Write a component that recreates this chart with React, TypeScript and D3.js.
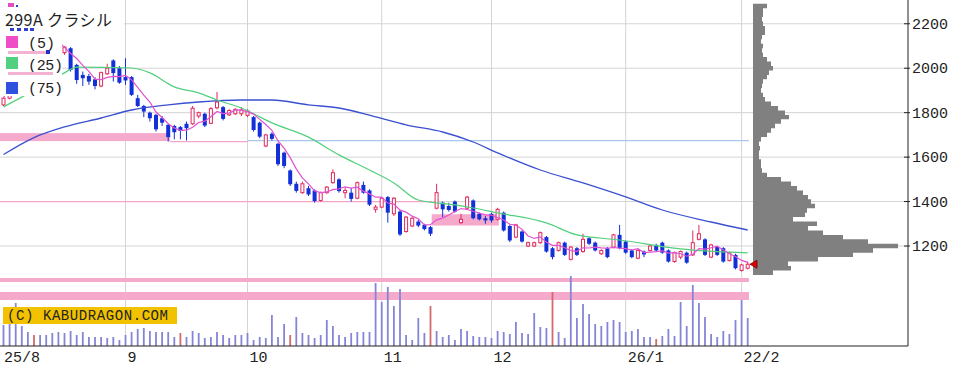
import React from 'react';
import * as d3 from 'd3';

// ---- daily candles (index 0..122) ----
const opens = [1835,1865,1990,2150,2250,2190,2220,2120,2060,2100, 2070,2090,2015,1970,1965,1950,1920,1975,2035,2000, 1960,1960,1865,1830,1800,1790,1775,1745,1740,1735, 1750,1750,1785,1795,1752,1822,1825,1790,1795,1795, 1788,1780,1755,1650,1705,1660,1620,1540,1480,1440, 1460,1450,1405,1440,1485,1500,1440,1440,1415,1475, 1450,1365,1375,1420,1345,1355,1265,1290,1310,1295, 1285,1370,1395,1380,1400,1305,1370,1405,1345,1325, 1345,1320,1350,1290,1240,1265,1200,1200,1215,1240, 1190,1180,1215,1140,1190,1175,1235,1215,1165,1190, 1195,1250,1220,1180,1145,1175,1180,1205,1215,1180, 1130,1150,1170,1160,1230,1230,1150,1195,1190,1135, 1160,1090,1100];
const highs = [1870,2000,2160,2290,2280,2260,2240,2140,2130,2120, 2100,2095,2020,1985,1975,1960,1985,2020,2040,2010, 2045,1965,1880,1835,1805,1795,1785,1750,1745,1740, 1760,1830,1805,1800,1825,1893,1830,1815,1820,1825, 1815,1785,1760,1705,1712,1665,1625,1545,1490,1490, 1470,1455,1445,1470,1545,1505,1465,1460,1490,1490, 1455,1385,1420,1425,1420,1360,1335,1330,1318,1300, 1290,1480,1400,1395,1405,1345,1425,1410,1350,1335, 1350,1372,1355,1295,1300,1270,1220,1220,1265,1245, 1195,1220,1220,1200,1195,1255,1240,1220,1185,1195, 1255,1295,1225,1185,1185,1180,1205,1210,1220,1185, 1175,1180,1175,1270,1295,1235,1210,1200,1195,1175, 1165,1120,1130];
const lows = [1830,1860,1980,2130,2170,2170,2110,2040,2050,2060, 2060,1985,1930,1920,1925,1905,1915,1970,1940,1930, 1925,1875,1825,1780,1760,1715,1740,1670,1680,1680, 1675,1745,1775,1735,1748,1815,1765,1785,1790,1785, 1780,1715,1685,1645,1675,1560,1550,1470,1440,1435, 1425,1395,1400,1435,1480,1440,1415,1400,1410,1435, 1380,1350,1370,1305,1335,1245,1260,1285,1285,1270, 1245,1365,1330,1355,1350,1300,1365,1320,1315,1300, 1305,1315,1265,1218,1235,1215,1195,1195,1210,1170, 1140,1175,1155,1135,1155,1170,1205,1175,1160,1145, 1190,1185,1165,1145,1140,1150,1175,1175,1165,1125, 1125,1140,1120,1155,1225,1155,1145,1155,1125,1130, 1095,1085,1095];
const closes = [1865,1985,2140,2250,2190,2230,2130,2060,2110,2075, 2095,1992,1947,1955,1940,1920,1980,2000,1978,1935, 1945,1880,1830,1805,1775,1725,1755,1690,1712,1718, 1730,1820,1800,1742,1818,1848,1772,1810,1815,1812, 1808,1722,1692,1700,1682,1568,1560,1478,1448,1480, 1432,1402,1440,1465,1530,1447,1450,1412,1485,1440, 1386,1375,1415,1350,1415,1252,1330,1325,1292,1276, 1255,1440,1365,1362,1355,1320,1420,1325,1320,1315, 1315,1365,1270,1225,1295,1220,1215,1215,1260,1175, 1150,1215,1160,1195,1160,1230,1210,1180,1180,1150, 1250,1190,1170,1150,1180,1162,1200,1180,1170,1130, 1170,1175,1125,1215,1255,1160,1205,1160,1130,1170, 1100,1115,1118];
const volumes = [210,230,430,200,140,110,110,110,130,140, 130,150,110,140,90,90,90,80,90,60, 110,140,170,180,150,140,140,140,90,130, 90,150,130,80,90,140,110,80,110,110, 130,60,90,80,310,90,220,110,290,130, 110,80,110,260,200,110,90,130,140,140, 140,630,440,590,400,570,110,60,280,130, 400,150,90,110,60,170,150,100,90, 90,80,150,140,120,240,130,120,330,190, 180,540,140,80,700,280,420,320,220,200, 240,260,240,140,150,170,90,90,70,100, 170,100,440,200,610,430,290,120,90,150, 120,260,460,280];
const redVolumeDays = [5, 29, 47, 70, 90, 107];

// ---- axes ----
const tickIndex = [0, 20, 40, 62, 80, 102, 121];
const tickLabel = ['25/8', '9', '10', '11', '12', '26/1', '22/2'];
const priceTicks = [1200, 1400, 1600, 1800, 2000, 2200];

// ---- moving averages (index, price) ----
const ma25Idx = [0, 3, 10, 12, 21, 24, 28, 32, 35, 39, 44, 50, 55, 60, 64, 68, 74, 77, 81, 89, 94, 101, 111, 122];
const ma25Val = [1826, 1870, 1979, 2005, 2001, 1979, 1916, 1889, 1857, 1821, 1754, 1690, 1610, 1542, 1484, 1407, 1385, 1371, 1349, 1304, 1250, 1227, 1187, 1169];
const ma75Idx = [0, 5, 10, 16, 21, 27, 32, 39, 44, 50, 55, 61, 66, 72, 77, 81, 88, 95, 102, 108, 116, 122];
const ma75Val = [1612, 1688, 1736, 1776, 1812, 1835, 1848, 1857, 1857, 1835, 1821, 1781, 1745, 1713, 1668, 1619, 1542, 1484, 1421, 1362, 1308, 1272];

// ---- volume-by-price profile (bin lower bound, 20 yen bins) ----
const profilePrice = [1070,1090,1110,1130,1150,1170,1190,1210,1230,1250,1270,1290,1310,1330,1350,1370,1390,1410,1430,1450,1470,1490,1510,1530,1550,1570,1590,1610,1630,1650,1670,1690,1710,1730,1750,1770,1790,1810,1830,1850,1870,1890,1910,1930,1950,1970,1990,2010,2030,2050,2070,2090,2110,2130,2150,2170,2190,2210,2230,2250,2270];
const profileVol = [20,38,35,65,100,120,145,115,90,70,55,64,40,52,54,62,58,55,50,44,38,28,14,9,8,8,6,6,7,6,8,14,18,22,28,36,32,25,18,12,10,8,9,10,14,16,20,18,14,10,9,10,8,9,12,12,10,9,10,10,14];

// ---- zones [startIndex, endIndex, lowPrice, highPrice] ----
const zoneStart = [-0.6, 70.2, -0.6, -0.6];
const zoneEnd = [27.3, 81.2, 122.2, 122.2];
const zoneLow = [1672, 1292, 1038, 957];
const zoneHigh = [1708, 1343, 1056, 993];

const BLUE = '#1230d8';
const RED = '#e22a5e';
const MONO = '"Liberation Mono", "DejaVu Sans Mono", monospace';

export default function App() {
  const x = d3.scaleLinear().domain([0, 122]).range([3.5, 747.7]);
  const y = d3.scaleLinear().domain([750, 2307]).range([346, 0]);
  const yVol = d3.scaleLinear().domain([0, 1000]).range([346, 246]);
  const prof = d3.scaleLinear().domain([0, 150]).range([0, 150]);
  const profX0 = 753;
  const axisX = 908;
  const baseY = 346;

  const ma5 = closes.map((_, i) => d3.mean(closes.slice(Math.max(0, i - 4), i + 1)) as number);
  const line5 = d3.line<number>().x((_, i) => x(i)).y((d) => y(d));
  const lineS = d3.line<[number, number]>().x((d) => x(d[0])).y((d) => y(d[1])).curve(d3.curveMonotoneX);
  const ma25 = ma25Idx.map((v, i) => [v, ma25Val[i]] as [number, number]);
  const ma75 = ma75Idx.map((v, i) => [v, ma75Val[i]] as [number, number]);

  // stepped outline of the volume-by-price profile
  const pts: string[] = [];
  const topP = profilePrice[profilePrice.length - 1] + 20;
  pts.push(`M${profX0},${y(topP)}`);
  for (let k = profilePrice.length - 1; k >= 0; k--) {
    const p = profilePrice[k];
    const w = profX0 + prof(profileVol[k]);
    pts.push(`L${w},${y(p + 20)}`);
    pts.push(`L${w},${y(p)}`);
  }
  pts.push(`L${profX0},${y(profilePrice[0])}Z`);
  const profPath = pts.join('');

  const last = closes[closes.length - 1];
  const ty = y(last);

  return (
    <svg width={972} height={370} style={{ position: 'absolute', left: 0, top: 0, background: '#fff' }}>
      <rect x={0} y={0} width={972} height={370} fill="#fff" />
      {/* grid */}
      {priceTicks.map((p) => (
        <line key={'h' + p} x1={0} x2={axisX} y1={y(p)} y2={y(p)} stroke="#d4d4d4" strokeWidth={1} />
      ))}
      {tickIndex.slice(1).map((t) => (
        <line key={'v' + t} x1={x(t)} x2={x(t)} y1={0} y2={baseY} stroke="#d4d4d4" strokeWidth={1} />
      ))}
      {/* zones */}
      {zoneLow.map((lo, k) => (
        <rect key={'z' + k} x={Math.max(0, x(zoneStart[k]))} width={x(zoneEnd[k]) - Math.max(0, x(zoneStart[k]))}
          y={y(zoneHigh[k])} height={y(lo) - y(zoneHigh[k])} fill="#f5a9cb" />
      ))}
      <line x1={x(27.3)} x2={x(40)} y1={y(1670)} y2={y(1670)} stroke="#f2a6c8" strokeWidth={1.2} />
      <line x1={x(40)} x2={x(122.2)} y1={y(1674)} y2={y(1674)} stroke="#a9c6ee" strokeWidth={1.2} />
      <line x1={0} x2={x(70.2)} y1={y(1400)} y2={y(1400)} stroke="#f2a6c8" strokeWidth={1.2} />
      {/* volume */}
      {volumes.map((v, i) => (
        <rect key={'vol' + i} x={x(i) - 0.9} width={1.8} y={yVol(v)} height={baseY - yVol(v)}
          fill={redVolumeDays.includes(i) ? '#d26a6a' : '#8585d8'} />
      ))}
      {/* price profile */}
      <path d={profPath} fill="#808080" />
      {/* candles */}
      {opens.map((o, i) => {
        const c = closes[i];
        const up = c >= o;
        const col = up ? RED : BLUE;
        const top = y(Math.max(o, c));
        const bot = y(Math.min(o, c));
        return (
          <g key={'c' + i}>
            <line x1={x(i)} x2={x(i)} y1={y(highs[i])} y2={y(lows[i])} stroke={col} strokeWidth={1} />
            {up ? (
              <rect x={x(i) - 1.5} y={top} width={3} height={Math.max(1, bot - top)} fill="#fff" stroke={col} strokeWidth={1} />
            ) : (
              <rect x={x(i) - 2} y={top} width={4} height={Math.max(1.5, bot - top)} fill={col} />
            )}
          </g>
        );
      })}
      {/* moving averages */}
      <path d={lineS(ma75) || ''} fill="none" stroke="#3a50d0" strokeWidth={1.3} />
      <path d={lineS(ma25) || ''} fill="none" stroke="#52d07e" strokeWidth={1.2} />
      <path d={line5(ma5) || ''} fill="none" stroke="#e052d2" strokeWidth={1.2} />
      {/* last price marker */}
      <polygon points={`${profX0 - 3},${ty} ${profX0 + 4},${ty - 4} ${profX0 + 4},${ty + 4}`} fill="#e00000" stroke="#700" strokeWidth={0.8} />
      {/* legend */}
      <rect x={0} y={0} width={124} height={26} fill="#fff" />
      <rect x={0} y={0} width={62} height={96} fill="#fff" />
      <rect x={8} y={3} width={6} height={4} fill="#e050c0" />
      <rect x={16} y={5} width={2} height={2} fill="#3040d0" />
      <text x={5} y={26} fontFamily='"Noto Sans CJK JP", sans-serif' fontSize={16} fill="#222" textLength={107} lengthAdjust="spacing">299A クラシル</text>
      {[10, 17, 24, 30].map((v) => (
        <rect key={'bm' + v} x={v} y={28} width={4} height={3} fill="#3040d0" />
      ))}
      <rect x={6} y={36} width={12} height={12} fill="#f04ec8" />
      <text x={28} y={48} fontFamily={MONO} fontSize={15} fill="#222" textLength={27}>(5)</text>
      <rect x={8} y={51} width={40} height={3} fill="#f4b2d2" />
      <rect x={46} y={50} width={4} height={4} fill="#2030c0" />
      <rect x={6} y={57} width={12} height={12} fill="#50d080" />
      <text x={28} y={70} fontFamily={MONO} fontSize={15} fill="#222" textLength={35}>(25)</text>
      <rect x={8} y={72} width={45} height={3} fill="#f4b2d2" />
      <rect x={6} y={82} width={12} height={12} fill="#3050e0" />
      <text x={28} y={93} fontFamily={MONO} fontSize={15} fill="#222" textLength={35}>(75)</text>
      {/* copyright */}
      <rect x={3} y={307} width={174} height={17} fill="#f2c200" />
      <text x={7} y={320} fontFamily={MONO} fontSize={14} fill="#222" textLength={161}>(C) KABUDRAGON.COM</text>
      {/* axes */}
      <line x1={0} x2={axisX} y1={baseY} y2={baseY} stroke="#222" strokeWidth={1} />
      <line x1={axisX} x2={axisX} y1={0} y2={baseY} stroke="#222" strokeWidth={1} />
      {priceTicks.map((p) => (
        <g key={'pt' + p}>
          <line x1={axisX - 4} x2={axisX + 2} y1={y(p)} y2={y(p)} stroke="#222" />
          <text x={912} y={y(p) + 5} fontFamily={MONO} fontSize={15} fill="#222">{p}</text>
        </g>
      ))}
      {tickIndex.map((t, k) => (
        <text key={'xl' + t} x={k === 0 ? 4 : x(t) + 2} y={362} fontFamily={MONO} fontSize={15} fill="#222">{tickLabel[k]}</text>
      ))}
    </svg>
  );
}
